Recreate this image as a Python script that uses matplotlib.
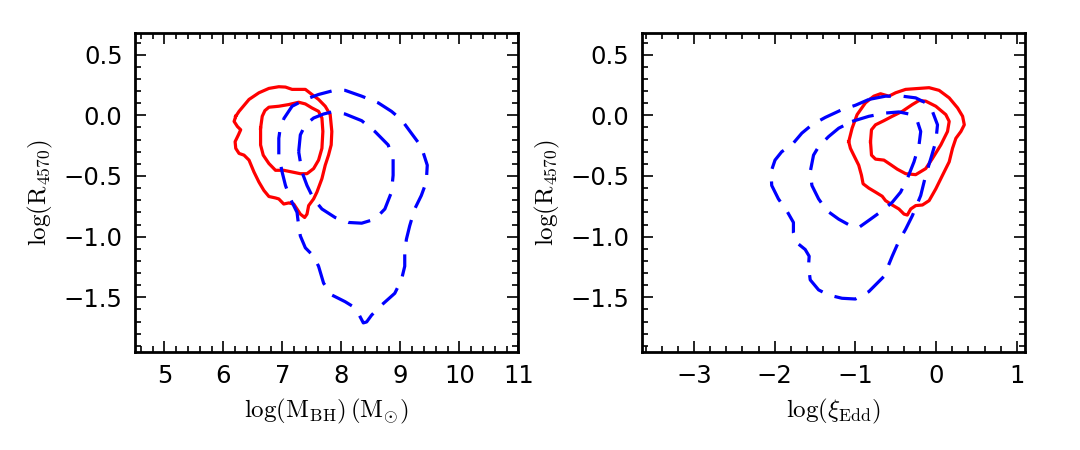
import numpy as np
import matplotlib
matplotlib.use("Agg")
import matplotlib.pyplot as plt
from matplotlib.ticker import MultipleLocator

plt.rcParams['mathtext.fontset'] = 'cm'
plt.rcParams['font.family'] = 'DejaVu Sans'

# left panel: log(M_BH) vs log(R_4570)
mbh_red_outer_x = [6.208, 6.264, 6.433, 6.601, 6.770, 6.938, 7.051, 7.163, 7.275, 7.388, 7.500, 7.612,
                   7.725, 7.809, 7.837, 7.826, 7.781, 7.725, 7.669, 7.584, 7.528, 7.444, 7.416, 7.376,
                   7.303, 7.247, 7.191, 7.107, 7.022, 6.938, 6.882, 6.770, 6.685, 6.601, 6.517, 6.433,
                   6.348, 6.264, 6.208, 6.197, 6.253, 6.292, 6.236, 6.180]
mbh_red_outer_y = [-0.008, 0.033, 0.131, 0.186, 0.222, 0.236, 0.233, 0.214, 0.214, 0.214, 0.172, 0.131,
                   0.075, 0.006, -0.133, -0.244, -0.328, -0.411, -0.522, -0.633, -0.689, -0.744, -0.814, -0.842,
                   -0.814, -0.772, -0.731, -0.722, -0.731, -0.689, -0.681, -0.669, -0.619, -0.550, -0.467, -0.369,
                   -0.328, -0.314, -0.272, -0.217, -0.161, -0.119, -0.092, -0.050]

mbh_red_inner_x = [6.629, 6.657, 6.702, 6.770, 6.938, 7.107, 7.275, 7.388, 7.500, 7.612, 7.669, 7.685,
                   7.669, 7.612, 7.528, 7.416, 7.303, 7.163, 7.022, 6.882, 6.770, 6.674, 6.629]
mbh_red_inner_y = [-0.106, -0.008, 0.039, 0.067, 0.075, 0.089, 0.108, 0.094, 0.061, 0.033, -0.022, -0.133,
                   -0.272, -0.369, -0.439, -0.481, -0.481, -0.467, -0.453, -0.453, -0.397, -0.328, -0.244]

mbh_blue_outer_x = [7.022, 7.163, 7.388, 7.612, 7.893, 8.062, 8.343, 8.624, 8.848, 9.017, 9.185, 9.354,
                    9.455, 9.438, 9.354, 9.242, 9.157, 9.101, 9.073, 9.073, 9.017, 8.904, 8.680, 8.511,
                    8.427, 8.371, 8.287, 8.202, 8.062, 7.837, 7.697, 7.612, 7.528, 7.388, 7.303, 7.275,
                    7.247, 7.135, 7.051, 6.994, 6.938, 6.938, 6.966]
mbh_blue_outer_y = [-0.028, 0.075, 0.131, 0.172, 0.208, 0.206, 0.158, 0.103, 0.033, -0.036, -0.147, -0.258,
                    -0.411, -0.550, -0.661, -0.772, -0.911, -1.022, -1.133, -1.244, -1.356, -1.467, -1.564, -1.647,
                    -1.703, -1.711, -1.633, -1.578, -1.536, -1.481, -1.383, -1.244, -1.161, -1.092, -0.994, -0.911,
                    -0.800, -0.689, -0.578, -0.467, -0.328, -0.189, -0.092]

mbh_blue_inner_x = [7.275, 7.303, 7.388, 7.528, 7.697, 7.837, 8.062, 8.343, 8.567, 8.792, 8.876, 8.876,
                    8.848, 8.736, 8.567, 8.343, 8.118, 7.893, 7.669, 7.528, 7.416, 7.331]
mbh_blue_inner_y = [-0.300, -0.161, -0.078, -0.022, 0.011, 0.028, 0.011, -0.044, -0.133, -0.244, -0.356, -0.494,
                    -0.633, -0.772, -0.856, -0.889, -0.883, -0.842, -0.772, -0.689, -0.578, -0.467]

# right panel: log(xi_Edd) vs log(R_4570)
edd_red_outer_x = [-1.083, -1.041, -0.979, -0.876, -0.772, -0.689, -0.585, -0.502, -0.378, -0.212, -0.087, 0.037,
                   0.162, 0.266, 0.328, 0.349, 0.307, 0.245, 0.203, 0.162, 0.079, -0.004, -0.087, -0.170,
                   -0.253, -0.315, -0.357, -0.398, -0.461, -0.544, -0.627, -0.668, -0.751, -0.834, -0.905, -0.925,
                   -0.959, -1.021, -1.062]
edd_red_outer_y = [-0.217, -0.106, 0.006, 0.103, 0.158, 0.178, 0.158, 0.186, 0.214, 0.222, 0.228, 0.206,
                   0.144, 0.061, -0.008, -0.078, -0.133, -0.189, -0.272, -0.383, -0.494, -0.606, -0.703, -0.739,
                   -0.744, -0.772, -0.822, -0.814, -0.772, -0.739, -0.703, -0.667, -0.633, -0.600, -0.564, -0.494,
                   -0.411, -0.328, -0.272]

edd_red_inner_x = [-0.813, -0.801, -0.751, -0.647, -0.544, -0.419, -0.295, -0.212, -0.129, -0.004, 0.120, 0.162,
                   0.141, 0.058, -0.046, -0.129, -0.253, -0.378, -0.481, -0.564, -0.647, -0.751, -0.801]
edd_red_inner_y = [-0.217, -0.119, -0.078, -0.044, -0.008, 0.033, 0.089, 0.122, 0.117, 0.075, 0.006, -0.050,
                   -0.133, -0.244, -0.356, -0.439, -0.489, -0.481, -0.444, -0.406, -0.369, -0.361, -0.328]

edd_blue_outer_x = [-0.834, -0.627, -0.419, -0.253, -0.129, -0.046, 0.017, -0.004, -0.066, -0.129, -0.191, -0.295,
                    -0.378, -0.461, -0.544, -0.647, -0.834, -1.000, -1.166, -1.332, -1.456, -1.560, -1.581, -1.573,
                    -1.622, -1.726, -1.768, -1.768, -1.851, -1.954, -2.037, -2.046, -1.996, -1.913, -1.788, -1.664,
                    -1.539, -1.373, -1.166, -1.000]
edd_blue_outer_y = [0.131, 0.158, 0.158, 0.144, 0.103, 0.033, -0.078, -0.217, -0.356, -0.494, -0.661, -0.828,
                    -0.939, -1.036, -1.161, -1.328, -1.453, -1.514, -1.508, -1.481, -1.439, -1.356, -1.244, -1.161,
                    -1.106, -1.050, -0.967, -0.883, -0.786, -0.689, -0.578, -0.467, -0.369, -0.300, -0.244, -0.147,
                    -0.078, -0.017, 0.047, 0.083]

edd_blue_inner_x = [-1.041, -0.834, -0.627, -0.461, -0.336, -0.232, -0.191, -0.212, -0.274, -0.357, -0.440, -0.544,
                    -0.668, -0.813, -0.959, -1.041, -1.207, -1.353, -1.456, -1.539, -1.560, -1.519, -1.456, -1.332,
                    -1.207]
edd_blue_inner_y = [-0.050, -0.008, 0.019, 0.028, 0.011, -0.050, -0.133, -0.244, -0.383, -0.522, -0.633, -0.717,
                    -0.786, -0.856, -0.925, -0.917, -0.856, -0.786, -0.689, -0.578, -0.467, -0.328, -0.258, -0.175,
                    -0.106]


def closed(xs, ys):
    return list(xs) + [xs[0]], list(ys) + [ys[0]]


def style_axes(ax):
    ax.tick_params(which='both', direction='in', top=True, right=True, labelsize=17.5, width=1.2)
    ax.tick_params(which='major', length=8, pad=9)
    ax.tick_params(which='minor', length=4)
    for sp in ax.spines.values():
        sp.set_linewidth(2)
    ax.yaxis.set_major_locator(MultipleLocator(0.5))
    ax.yaxis.set_minor_locator(MultipleLocator(0.1))
    ax.xaxis.set_major_locator(MultipleLocator(1))
    ax.xaxis.set_minor_locator(MultipleLocator(0.2))
    ax.set_ylim(-1.95, 0.68)
    ax.set_ylabel(r'$\log(\mathrm{R_{4570}})$', fontsize=18, labelpad=6)


fig = plt.figure(figsize=(10.8, 4.5), dpi=100)
ax1 = fig.add_axes([0.125, 0.218, 0.355, 0.709])
ax2 = fig.add_axes([0.594, 0.218, 0.355, 0.709])

dash = (7, 4)
for ax, sets in [(ax1, [(mbh_red_outer_x, mbh_red_outer_y, 'r'), (mbh_red_inner_x, mbh_red_inner_y, 'r'),
                        (mbh_blue_outer_x, mbh_blue_outer_y, 'b'), (mbh_blue_inner_x, mbh_blue_inner_y, 'b')]),
                 (ax2, [(edd_red_outer_x, edd_red_outer_y, 'r'), (edd_red_inner_x, edd_red_inner_y, 'r'),
                        (edd_blue_outer_x, edd_blue_outer_y, 'b'), (edd_blue_inner_x, edd_blue_inner_y, 'b')])]:
    for xs, ys, c in sets:
        cx, cy = closed(xs, ys)
        if c == 'r':
            ax.plot(cx, cy, color='red', lw=2.3, solid_joinstyle='round')
        else:
            ax.plot(cx, cy, color='blue', lw=2.3, dashes=dash, dash_joinstyle='round')
    style_axes(ax)

ax1.set_xlim(4.5, 11)
ax1.set_xlabel(r'$\log(\mathrm{M_{BH}})\,(\mathrm{M_{\odot}})$', fontsize=18, labelpad=6)
ax2.set_xlim(-3.65, 1.1)
ax2.set_xlabel(r'$\log(\xi_{\mathrm{Edd}})$', fontsize=18, labelpad=6)

fig.savefig('out.png', dpi=100)
